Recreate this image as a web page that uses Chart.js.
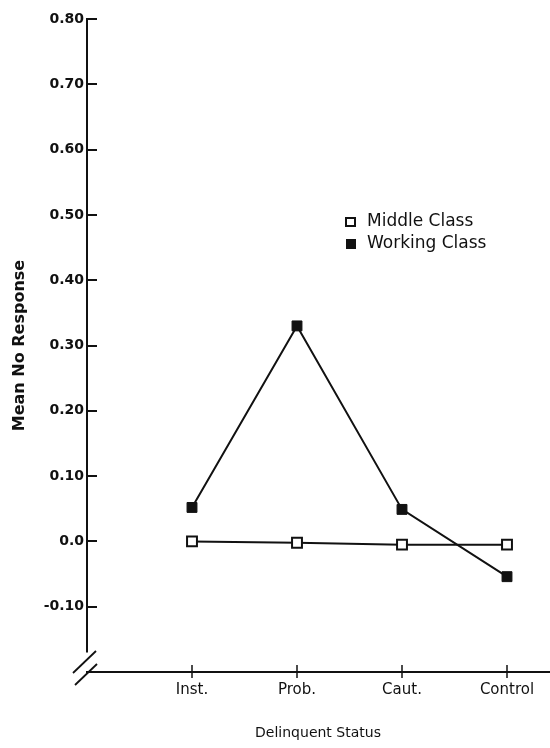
<!DOCTYPE html>
<html>
<head>
<meta charset="utf-8">
<script src="https://cdn.jsdelivr.net/npm/chart.js@4/dist/chart.umd.min.js"></script>
<style>
  html, body { margin: 0; padding: 0; background: #fff; }
  #wrap { width: 550px; height: 748px; }
</style>
</head>
<body>
<div id="wrap"><canvas id="chart" width="550" height="748"></canvas></div>
<script>
// Delinquent status groups along the x axis
const categories = ['Inst.', 'Prob.', 'Caut.', 'Control'];
// Mean "no response" scores per group
const middleClass = [0.0, -0.002, -0.005, -0.005];
const workingClass = [0.052, 0.33, 0.049, -0.054];
// Series names
const seriesNames = ['Middle Class', 'Working Class'];
// y axis range and labelled ticks
const yMin = -0.2, yMax = 0.8, yStep = 0.1, yLowestLabel = -0.1;
const yBreakValue = -0.17;

const INK = '#111';
const FAM = '"DejaVu Sans", sans-serif';

function toPoints(values) {
  return values.map((v, i) => ({ x: i, y: v }));
}

// Axis lines, short tick marks, the axis break and the inset legend
const decor = {
  id: 'decor',
  afterDraw(chart) {
    const { ctx, scales: { x, y } } = chart;
    const ax = x.left;
    const seg = (x1, y1, x2, y2) => { ctx.beginPath(); ctx.moveTo(x1, y1); ctx.lineTo(x2, y2); ctx.stroke(); };
    ctx.save();
    ctx.strokeStyle = INK;
    ctx.lineWidth = 2;
    ctx.lineCap = 'butt';

    // vertical axis, stopping short of the break
    seg(ax, y.getPixelForValue(yMax), ax, y.getPixelForValue(yBreakValue));

    // y ticks pointing into the plot
    y.ticks.forEach(t => {
      const py = Math.round(y.getPixelForValue(t.value));
      seg(ax - 1, py, ax + 10, py);
    });

    // x ticks crossing the axis
    ctx.lineWidth = 1.5;
    x.ticks.forEach(t => {
      const px = Math.round(x.getPixelForValue(t.value));
      seg(px, x.top - 7, px, x.top + 6);
    });

    // axis break: two parallel slashes
    ctx.lineWidth = 1.8;
    const by = x.top;
    seg(ax - 14, by + 1, ax + 9, by - 21);
    seg(ax - 12, by + 13, ax + 10, by - 8);

    // legend
    const lx = 346, ly = [222, 244];
    ctx.font = '17px ' + FAM;
    ctx.textBaseline = 'middle';
    ctx.textAlign = 'left';
    chart.data.datasets.forEach((ds, i) => {
      const cy = ly[i];
      ctx.lineWidth = 2;
      if (ds.pointBackgroundColor === '#fff') {
        ctx.fillStyle = '#fff';
        ctx.fillRect(lx, cy - 4, 9, 8);
        ctx.strokeRect(lx, cy - 4, 9, 8);
      } else {
        ctx.fillStyle = INK;
        ctx.fillRect(lx, cy - 5, 10, 10);
      }
      ctx.fillStyle = INK;
      ctx.fillText(ds.label, lx + 21, cy);
    });
    ctx.restore();
  }
};

new Chart(document.getElementById('chart'), {
  type: 'line',
  data: {
    datasets: [
      {
        label: seriesNames[0],
        data: toPoints(middleClass),
        borderColor: INK,
        borderWidth: 2,
        pointStyle: 'rect',
        pointRadius: 7,
        pointBorderWidth: 2,
        pointBorderColor: INK,
        pointBackgroundColor: '#fff',
        tension: 0
      },
      {
        label: seriesNames[1],
        data: toPoints(workingClass),
        borderColor: INK,
        borderWidth: 2,
        pointStyle: 'rect',
        pointRadius: 7,
        pointBorderWidth: 1,
        pointBorderColor: INK,
        pointBackgroundColor: INK,
        tension: 0
      }
    ]
  },
  options: {
    responsive: false,
    animation: false,
    layout: { autoPadding: false, padding: { top: 19, right: 1, left: 0, bottom: 0 } },
    plugins: {
      legend: { display: false },
      tooltip: { enabled: false }
    },
    scales: {
      x: {
        type: 'linear',
        min: -1,
        max: 3.4,
        afterBuildTicks: s => { s.ticks = categories.map((c, i) => ({ value: i })); },
        afterFit: s => { s.height = 76; s.paddingLeft = 0; s.paddingRight = 0; },
        grid: { display: false, drawTicks: false },
        border: { display: true, color: INK, width: 2 },
        ticks: {
          autoSkip: false,
          maxRotation: 0,
          padding: 9,
          color: INK,
          font: { family: FAM, size: 15 },
          callback: v => categories[v] ?? ''
        },
        title: {
          display: true,
          text: 'Delinquent Status',
          color: INK,
          font: { family: FAM, size: 14 },
          padding: { top: 0, bottom: 6 }
        }
      },
      y: {
        min: yMin,
        max: yMax,
        afterBuildTicks: s => { s.ticks = s.ticks.filter(t => t.value >= yLowestLabel - 1e-9); },
        afterFit: s => { s.width = 87; },
        grid: { display: false, drawTicks: false },
        border: { display: false },
        ticks: {
          stepSize: yStep,
          padding: 3,
          color: INK,
          font: { family: FAM, size: 14, weight: 'bold' },
          callback: v => Math.abs(v) < 1e-9 ? '0.0' : v.toFixed(2)
        },
        title: {
          display: true,
          text: 'Mean No Response',
          color: INK,
          font: { family: FAM, size: 16, weight: 'bold' },
          padding: { top: 10, bottom: 0 }
        }
      }
    }
  },
  plugins: [decor]
});
</script>
</body>
</html>
